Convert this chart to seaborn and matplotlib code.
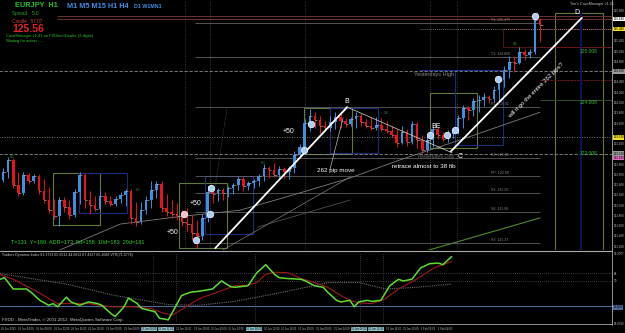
import matplotlib
matplotlib.use("Agg")
import matplotlib.pyplot as plt
import numpy as np
import pandas as pd
import seaborn as sns
from matplotlib.patches import Rectangle
from matplotlib.lines import Line2D

# ---- EURJPY H1 candles ----
first_open = 122.50
closes = [122.66, 122.89, 122.40, 122.25, 122.60, 122.48, 122.58, 122.29, 122.11, 121.91,
          121.80, 122.11, 121.97, 121.82, 122.27, 122.60, 122.11, 122.01, 121.93, 122.19,
          122.09, 122.03, 122.13, 122.21, 122.29, 121.76, 121.68, 121.91, 122.11, 122.31,
          122.42, 121.95, 121.87, 121.84, 121.80, 121.68, 121.64, 121.47, 121.41, 121.76,
          122.27, 122.23, 122.31, 122.25, 122.34, 122.40, 122.52, 122.38, 122.44, 122.48,
          122.58, 122.73, 122.69, 122.60, 122.71, 122.66, 122.73, 122.99, 123.14, 123.61,
          123.75, 123.67, 123.55, 123.51, 123.63, 123.73, 123.65, 123.59, 123.69, 123.75,
          123.63, 123.55, 123.51, 123.57, 123.49, 123.45, 123.38, 123.22, 123.44, 123.24,
          123.59, 123.28, 123.09, 123.28, 123.49, 123.38, 123.30, 123.40, 123.47, 123.71,
          123.90, 123.86, 124.04, 124.06, 124.12, 124.08, 124.25, 124.45, 124.65, 124.80,
          124.78, 125.00, 124.94, 125.00, 125.62, 125.52]
highs = [122.73, 122.95, 122.93, 122.66, 122.66, 122.64, 122.62, 122.62, 122.52, 122.36,
         122.13, 122.17, 122.17, 122.11, 122.32, 122.66, 122.64, 122.29, 122.19, 122.31,
         122.27, 122.19, 122.19, 122.27, 122.32, 122.32, 122.07, 122.07, 122.19, 122.48,
         122.48, 122.48, 122.23, 122.11, 122.05, 121.91, 121.95, 121.82, 121.72, 121.84,
         122.38, 122.36, 122.34, 122.34, 122.38, 122.44, 122.58, 122.56, 122.48, 122.52,
         122.62, 122.81, 122.77, 122.83, 122.77, 122.75, 122.77, 123.07, 123.20, 123.69,
         123.88, 123.83, 123.75, 123.65, 123.75, 123.83, 123.83, 123.71, 123.73, 123.83,
         123.81, 123.69, 123.73, 123.73, 123.71, 123.65, 123.55, 123.49, 123.55, 123.49,
         123.65, 123.63, 123.38, 123.38, 123.55, 123.53, 123.44, 123.47, 123.51, 123.77,
         123.96, 123.94, 124.10, 124.16, 124.20, 124.16, 124.33, 124.53, 124.72, 124.92,
         124.92, 125.09, 125.05, 125.05, 125.75, 125.66]
lows = [122.46, 122.54, 122.34, 122.19, 122.21, 122.42, 122.44, 122.23, 122.05, 121.85,
        121.74, 121.60, 121.87, 121.74, 121.78, 122.03, 121.95, 121.84, 121.89, 121.91,
        122.03, 121.99, 121.99, 122.05, 121.99, 121.64, 121.60, 121.64, 121.84, 121.95,
        122.15, 121.87, 121.80, 121.76, 121.72, 121.60, 121.50, 121.33, 121.18, 121.33,
        121.68, 122.05, 122.09, 122.11, 122.17, 122.23, 122.31, 122.29, 122.31, 122.34,
        122.38, 122.48, 122.54, 122.56, 122.54, 122.54, 122.52, 122.64, 122.93, 123.01,
        123.45, 123.51, 123.42, 123.45, 123.45, 123.49, 123.51, 123.53, 123.55, 123.51,
        123.55, 123.51, 123.47, 123.47, 123.45, 123.42, 123.34, 123.14, 123.20, 123.16,
        123.20, 123.12, 123.01, 123.05, 123.14, 123.30, 123.26, 123.24, 123.32, 123.40,
        123.51, 123.67, 123.75, 123.83, 123.94, 124.00, 124.02, 124.02, 124.31, 124.49,
        124.61, 124.76, 124.84, 124.88, 124.96, 125.19]

# signal markers (candle index, price)
dot_idx = [37.7, 40.7, 40.5, 58.9, 60.2, 83.5, 86.8, 88.4, 96.8, 104.0]
dot_price = [121.33, 122.34, 121.84, 123.08, 123.59, 123.38, 123.38, 123.47, 124.47, 125.70]
pink_idx, pink_price = [35.4], [121.84]

# swing lines A-B, B-C, C-D
ab_idx, ab_price = [41.5, 67.3], [121.17, 123.92]
bc_idx, bc_price = [67.3, 87.8], [123.92, 123.03]
cd_idx, cd_price = [87.6, 113.2], [123.06, 125.66]

# slow moving average (gray) and green MA
ma_idx = [11.1, 22.9, 34.0, 46.3, 56.1, 67.9, 77.6, 89.4, 105.0]
ma_price = [121.135, 121.64, 121.78, 121.91, 122.19, 122.54, 122.89, 123.28, 123.82]
gma_idx, gma_price = [82.1, 105.0], [121.10, 121.76]

# session boxes: (start idx, end idx, top, bottom, colour)
boxes = [(9.8, 19.0, 122.64, 121.62, '#5d7a3a'), (14.9, 24.2, 122.64, 121.86, '#1c2a7a'),
         (34.4, 43.8, 122.44, 121.17, '#5d7a3a'), (39.5, 48.9, 122.58, 121.45, '#1c2a7a'),
         (58.9, 68.2, 123.90, 123.01, '#5d7a3a'), (63.9, 73.3, 123.90, 123.03, '#1c2a7a'),
         (83.5, 92.7, 124.20, 123.12, '#5d7a3a'), (88.4, 97.8, 124.64, 123.18, '#1c2a7a'),
         (107.9, 117.3, 125.75, 121.14, '#5d7a3a')]

# pivot levels
pivot_names = ['R1', 'R2', 'PP', 'S1', 'S2', 'S3']
pivot_levels = [123.92, 122.93, 122.58, 122.25, 121.88, 121.27]

# Traders Dynamic Index (hour, value)
tdi_hours = [0, 1, 3, 6, 7, 9, 11, 12, 13, 15, 16, 18, 20, 22, 23, 25, 26, 28, 29, 31, 32, 35,
             36, 38, 39, 41, 43, 45, 48, 50, 52, 53, 56, 58, 60, 62, 63, 65, 68, 69, 71, 73,
             74, 76, 77, 79, 80, 81, 83, 84, 86, 88, 90, 91, 93, 95, 97, 99, 100, 102]
tdi_green = [61.4, 63.2, 50.9, 50.9, 47.4, 38.6, 33.3, 35.1, 31.6, 42.1, 36.9, 33.3, 36.9, 35.1,
             33.3, 24.6, 21.1, 31.6, 41.1, 35.1, 29.8, 26.3, 19.3, 17.5, 26.3, 43.8, 47.4, 48.5,
             50.9, 59.6, 53.7, 52.7, 54.4, 68.5, 77.2, 66.7, 63.2, 62.2, 61.4, 59.6, 54.4, 52.7,
             47.4, 38.6, 36.9, 38.6, 31.6, 36.9, 38.6, 37.5, 38.6, 54.4, 61.4, 59.6, 61.4, 73.8,
             78.3, 79.0, 77.2, 86.0]
sig_hours = [0, 3, 8, 13, 20, 25, 30, 34, 37, 39, 42, 45, 49, 53, 56, 58, 60, 62, 65, 68, 71,
             74, 77, 79, 81, 84, 87, 90, 94, 98, 102]
sig_red = [66.7, 61.4, 49.1, 35.1, 35.1, 31.6, 31.6, 29.8, 24.6, 22.8, 31.6, 40.4, 47.4, 54.4,
           55.1, 57.9, 66.7, 69.1, 68.5, 62.2, 57.9, 52.7, 43.8, 38.6, 35.8, 35.1, 40.4, 50.9,
           61.4, 73.8, 80.7]
base_hours = [0, 15, 26, 38, 45, 53, 60, 68, 74, 81, 87, 94, 102]
base_gray = [67.6, 56.2, 43.8, 34.0, 33.3, 37.5, 43.8, 51.6, 57.9, 57.9, 50.9, 52.7, 56.2]

time_labels = ['28 Jan 2013', '28 Jan 04:00', '28 Jan 08:00', '28 Jan 12:00', '28 Jan 16:00',
               '28 Jan 20:00', '29 Jan 00:00', '29 Jan 04:00', '29 Jan 08:00', '29 Jan 12:00',
               '29 Jan 16:00', '29 Jan 20:00', '30 Jan 00:00', '30 Jan 04:00', '30 Jan 08:00',
               '30 Jan 12:00', '30 Jan 16:00', '30 Jan 20:00', '31 Jan 00:00', '31 Jan 04:00',
               '31 Jan 08:00', '31 Jan 12:00', '31 Jan 16:00', '31 Jan 20:00', '1 Feb 00:00',
               '1 Feb 04:00']

sns.set_theme(style="dark", rc={"axes.facecolor": "black", "figure.facecolor": "black"})
plt.rcParams['font.family'] = ['Liberation Sans', 'DejaVu Sans']

fig = plt.figure(figsize=(6.25, 3.33), dpi=100)
ax = fig.add_axes([0, 83 / 333, 612 / 625, 250 / 333])
ax2 = fig.add_axes([0, 10 / 333, 612 / 625, 70.3 / 333])
for a in (ax, ax2):
    a.set_facecolor('black')
    a.grid(False)
    for s in a.spines.values():
        s.set_visible(False)
    a.set_xticks([])
    a.set_yticks([])

ax.set_xlim(-0.587, 119.09)
ax.set_ylim(121.135, 126.008)
ax2.set_xlim(0, 138.2)
ax2.set_ylim(14.08, 90.21)


def fpx(x, y):
    return x / 625, 1 - y / 333


# period separators
for v in [35.6, 40.5, 59.1, 83.5, 88.8]:
    ax.axvline(v, color='#6a6a6a', lw=0.5, ls=(0, (1, 2)))
for v in [34.5, 39.7, 57.6, 81.3, 86.5]:
    ax2.axvline(v, color='#6a6a6a', lw=0.5, ls=(0, (1, 2)))

# horizontal levels
ax.hlines([125.70, 125.64], 10.6, 119.09, colors='#6b3426', lw=0.7)
ax.hlines([125.56, 124.90], 37.5, 105, colors='#777777', lw=0.5)
ax.hlines(125.44, 81.5, 119.09, colors='#cccccc', lw=0.5, ls=(0, (1, 2)))
ax.hlines([124.62, 123.01], -1, 119.09, colors='#8a8a8a', lw=0.6, ls=(0, (4, 2)))
ax.hlines(123.33, -1, 119.09, colors='#a0a080', lw=0.6, ls=(0, (1, 2)))
ax.hlines(124.64, 81.5, 97.8, colors='#1c2f9a', lw=0.7)
ax.hlines([125.09, 124.45], 105, 119.09, colors='#7a1a1a', lw=0.6, ls=(0, (3, 1)))
ax.hlines(124.06, 105, 119.09, colors='#3c5a2a', lw=0.6)
ax.hlines(pivot_levels, 37.5, 105, colors='#6e6e6e', lw=0.5)
for name, lev in zip(pivot_names, pivot_levels):
    ax.text(95.5, lev + 0.02, f'{name}: {lev:.2f}', color='#8a8a8a', fontsize=2.6, va='bottom')
ax.text(95.5, 125.58, 'T1: 125.475', color='#8a8a8a', fontsize=2.6, va='bottom')
ax.text(95.5, 124.92, 'T1: 124.858', color='#8a8a8a', fontsize=2.6, va='bottom')

for x0, x1, top, bot, c in boxes:
    ax.add_patch(Rectangle((x0, bot), x1 - x0, top - bot, fill=False, ec=c, lw=0.8))
ax.axvline(113.0, ymin=0, ymax=1 - 13 / 250, color='#0c1458', lw=1.5)
ax.add_patch(Rectangle((97.8, 125.09), 21.5, 0.36, fill=False, ec='#5a1a14', lw=0.6))

# moving averages
sns.lineplot(x=ma_idx, y=ma_price, ax=ax, color='#7d7d7d', lw=0.6, legend=False)
sns.lineplot(x=[43.0, 67.9], y=[121.135, 122.56], ax=ax, color='#7d7d7d', lw=0.5, legend=False)
sns.lineplot(x=[49.7, 67.9], y=[121.58, 122.11], ax=ax, color='#5d5d5d', lw=0.5, legend=False)
sns.lineplot(x=[41.1, 43.8], y=[122.11, 123.90], ax=ax, color='#6a6a6a', lw=0.5, ls=':', legend=False)
sns.lineplot(x=gma_idx, y=gma_price, ax=ax, color='#4f8a2a', lw=0.8, legend=False)

# candles
opens = [first_open] + closes[:-1]
df = pd.DataFrame(dict(i=np.arange(len(closes)), o=opens, h=highs, l=lows, c=closes))
up = df['c'] >= df['o']
cols = np.where(up, '#3d8fe0', '#e8131a')
ax.vlines(df['i'], df['l'], df['h'], colors=cols, lw=0.7)
body = (df['c'] - df['o']).abs().clip(lower=0.02)
ax.bar(df['i'], body, bottom=df[['o', 'c']].min(axis=1), width=0.5, color=cols, lw=0)
ax.hlines(df['c'], df['i'], df['i'] + 0.5, colors='#c8c8c8', lw=0.4)

# swing lines
sns.lineplot(x=ab_idx, y=ab_price, ax=ax, color='white', lw=1.3, legend=False)
sns.lineplot(x=cd_idx, y=cd_price, ax=ax, color='white', lw=1.3, legend=False)
sns.lineplot(x=bc_idx, y=bc_price, ax=ax, color='#d8d8d8', lw=0.5, legend=False)
sns.lineplot(x=[63.9, 66.5], y=[122.69, 123.71], ax=ax, color='#bbbbbb', lw=0.5, legend=False)

sns.scatterplot(x=dot_idx, y=dot_price, ax=ax, s=22, color='#a9cff5', edgecolor='white',
                linewidth=0.5, zorder=5, legend=False)
sns.scatterplot(x=pink_idx, y=pink_price, ax=ax, s=22, color='#f2c2cc', edgecolor='white',
                linewidth=0.5, zorder=5, legend=False)

# chart labels
ax.text(67.3, 123.96, 'B', color='white', fontsize=5, ha='center', va='bottom')
ax.text(84.6, 123.47, 'BE', color='white', fontsize=5, ha='center', va='bottom')
ax.text(89.4, 122.96, 'C', color='white', fontsize=5, ha='center', va='center')
ax.text(112.3, 125.77, 'D', color='white', fontsize=5, ha='center', va='center')
ax.text(55.8, 123.45, '+50', color='white', fontsize=5, ha='center', va='center')
ax.text(37.6, 122.05, '+50', color='white', fontsize=5, ha='center', va='center')
ax.text(33.2, 121.47, '+50', color='white', fontsize=5, ha='center', va='center')
ax.text(61.5, 122.69, '262 pip move', color='white', fontsize=4.5, ha='left', va='center')
ax.text(76.0, 122.77, 'retrace almost to 38 fib', color='white', fontsize=4.5, ha='left', va='center')
ax.text(104.3, 124.25, 'will it go the entire 262 pips?', color='white', fontsize=4.3,
        ha='center', va='center', rotation=45)
ax.text(80.3, 124.56, 'Yesterdays High', color='#8a8a8a', fontsize=4, va='center')
ax.text(81.0, 122.95, 'Yesterdays Low', color='#6a6a6a', fontsize=3.8, va='center')
for xi, pr, t in [(75.0, 123.80, '28'), (26.4, 122.30, '60'), (1.7, 122.95, '60'),
                  (50.8, 122.83, '60'), (100.1, 125.15, '63')]:
    ax.text(xi, pr, t, color='#3a8a3a', fontsize=3, ha='center', va='center')
fig.text(*fpx(11, 243), 'T=131  Y=180  ADR=173  5d=158  10d=183  20d=161', color='#2fd02f',
         fontsize=4, va='center')

# header texts
fig.text(*fpx(15, 5.5), 'EURJPY  H1', color='#27c427', fontsize=5.3, fontweight='bold', va='center')
fig.text(*fpx(67, 6), 'M1 M5 M15 H1 H4', color='#3f8fe8', fontsize=5.3, fontweight='bold', va='center')
fig.text(*fpx(134, 6.5), 'D1 W1MN1', color='#3f8fe8', fontsize=3.8, fontweight='bold', va='center')
fig.text(*fpx(12, 13.5), 'Spread    5.0', color='#27a827', fontsize=3.3, va='center')
fig.text(*fpx(12, 21.5), 'Candle   57:07', color='#d03a3a', fontsize=3.3, va='center')
fig.text(*fpx(12, 29.5), '125.56', color='#e52222', fontsize=7.5, fontweight='bold', va='center')
fig.text(*fpx(6, 36.3), 'CaveManager v1.41 on FXDirectDealer (3 digits)', color='#27c427',
         fontsize=2.9, va='center')
fig.text(*fpx(6, 41), 'Waiting for action .....', color='#27c427', fontsize=2.9, va='center')
fig.text(*fpx(570, 4), "Tim's CaveManager v1.41", color='#bbbbbb', fontsize=2.7, va='center')

# price scale
marked = [(125.64, 'white'), (125.44, '#f0e020'), (124.62, '#9a9a9a'),
          (123.33, '#f0e020'), (123.01, '#9a9a9a'), (122.93, '#e070c0')]
price_ticks = np.round(np.arange(121.2, 126.0, 0.2), 1)
for p in price_ticks:
    if min(abs(p - m) for m, _ in marked) < 0.12:
        continue
    y = (126.008 - p) * 51.3
    fig.text(*fpx(613.5, y), f'{p:.3f}', color='#bdbdbd', fontsize=2.2, va='center')
for p, fc in marked:
    y = (126.008 - p) * 51.3
    fig.text(*fpx(613.5, y), f'{p:.3f}', color='black', fontsize=2.2, va='center',
             bbox=dict(boxstyle='square,pad=0.1', fc=fc, ec='none'))
for p in [125.008, 124.008, 123.008]:
    ax.text(114.5, p, f'{p:.3f}', color='#2fc02f', fontsize=3.5, ha='center', va='center')

# Traders Dynamic Index panel
ax2.axhline(68, color='#777777', lw=0.5, ls=(0, (1, 2)))
ax2.axhline(60, color='#777777', lw=0.5, ls=(0, (1, 2)))
ax2.axhline(32, color='#4a6898', lw=0.8)
sns.lineplot(x=base_hours, y=base_gray, ax=ax2, color='#6a6a6a', lw=0.8, ls=(0, (1, 1)), legend=False)
sns.lineplot(x=sig_hours, y=sig_red, ax=ax2, color='#a01818', lw=0.8, legend=False)
sns.lineplot(x=tdi_hours, y=tdi_green, ax=ax2, color='#5ae02a', lw=1.1, legend=False)
for a in (ax, ax2):
    a.set_xlabel('')
    a.set_ylabel('')
fig.text(*fpx(2, 255), 'Traders Dynamic Index 81.3733 65.5512 44.6812 67.4327 65.2068 VTR(71.5776)',
         color='#cccccc', fontsize=2.6, va='center')
fig.text(*fpx(2, 319.5), 'FXDD - MetaTrader, \u00a9 2001-2012, MetaQuotes Software Corp.',
         color='#cccccc', fontsize=3.2, va='center')
for v, t in [(89.0, '90.2077'), (68, '68'), (60, '50'), (15.5, '14.0782')]:
    y = 252.7 + (90.21 - v) * 0.949
    fig.text(*fpx(613.5, y), t, color='#bdbdbd', fontsize=2.2, va='center')
fig.text(*fpx(613.5, 307.5), '32.000', color='black', fontsize=2.2, va='center',
         bbox=dict(boxstyle='square,pad=0.1', fc='#4a6898', ec='none'))

for k, lab in enumerate(time_labels):
    hl = k in (8, 9, 14, 20, 21)
    fig.text(*fpx(1 + k * 17.5, 329), lab, color='black' if hl else '#bdbdbd', fontsize=1.9,
             va='center', bbox=dict(boxstyle='square,pad=0.1', fc='#8cc0c8', ec='none') if hl else None)

# frame lines
fig.add_artist(Line2D([612 / 625] * 2, [1 - 325 / 333, 1], color='#aaaaaa', lw=0.6))
fig.add_artist(Line2D([0, 612 / 625], [1 - 251 / 333] * 2, color='#aaaaaa', lw=0.8))
fig.add_artist(Line2D([0, 612 / 625], [1 - 324 / 333] * 2, color='#aaaaaa', lw=0.6))

fig.savefig('out.png', dpi=100, facecolor='black')
